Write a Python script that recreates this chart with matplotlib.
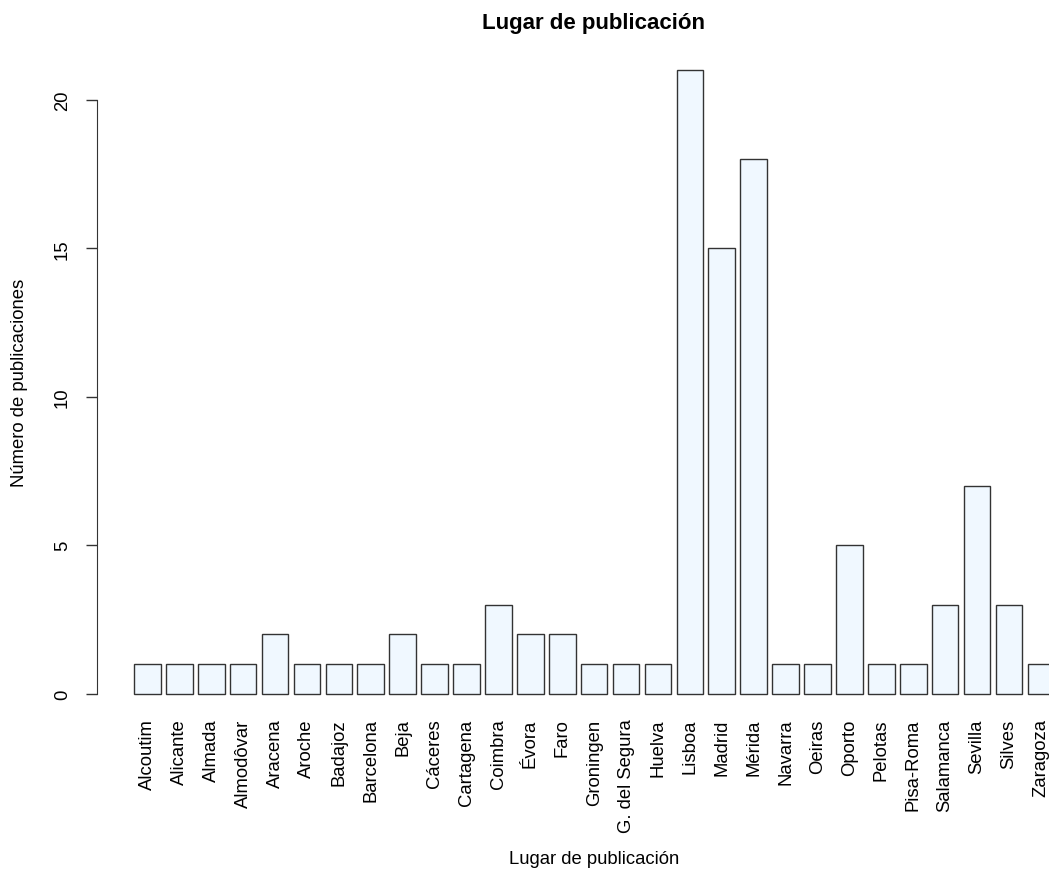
import matplotlib
matplotlib.use("Agg")
import matplotlib.pyplot as plt

plt.rcParams["font.family"] = ["Liberation Sans", "DejaVu Sans"]

lugares = ["Alcoutim", "Alicante", "Almada", "Almodôvar", "Aracena", "Aroche",
           "Badajoz", "Barcelona", "Beja", "Cáceres", "Cartagena", "Coimbra",
           "Évora", "Faro", "Groningen", "G. del Segura", "Huelva", "Lisboa",
           "Madrid", "Mérida", "Navarra", "Oeiras", "Oporto", "Pelotas",
           "Pisa-Roma", "Salamanca", "Sevilla", "Silves", "Zaragoza"]
publicaciones = [1, 1, 1, 1, 2, 1, 1, 1, 2, 1, 1, 3, 2, 2, 1, 1, 1, 21,
                 15, 18, 1, 1, 5, 1, 1, 3, 7, 3, 1]

W, H = 1049, 870
fig = plt.figure(figsize=(W / 100, H / 100), dpi=100)

# plot region in pixels (R-style, extends past right edge like the original)
left_px, right_px, top_px, bottom_px = 97.3, 1091, 46.5, 719.5
ax = fig.add_axes([left_px / W, 1 - bottom_px / H,
                   (right_px - left_px) / W, (bottom_px - top_px) / H])

# R barplot geometry: width 1, space 0.2
centers = [0.7 + 1.2 * i for i in range(len(lugares))]
ax.bar(centers, publicaciones, width=1.0, color="#F0F8FF",
       edgecolor="#333333", linewidth=1.0)

span = 1.2 * len(lugares) - 0.2 + 0.0
xmin, xmax = 0.2, 1.2 * len(lugares)
ext = (xmax - xmin) * 0.04
ax.set_xlim(xmin - ext, xmax + ext)
ymax = max(publicaciones)
ax.set_ylim(-ymax * 0.04, ymax * 1.04)

for s in ["top", "right", "bottom"]:
    ax.spines[s].set_visible(False)
ax.spines["left"].set_bounds(0, 20)
ax.spines["left"].set_color("#333333")

ax.set_yticks([0, 5, 10, 15, 20])
ax.tick_params(axis="y", length=8, width=1, color="#333333", pad=11,
               labelsize=13.3)
for lab in ax.get_yticklabels():
    lab.set_rotation(90)
    lab.set_va("center")

ax.set_xticks(centers)
ax.set_xticklabels(lugares, rotation=90, fontsize=13.3)
ax.tick_params(axis="x", length=0, pad=0)

fig.text(594 / W, 1 - 24 / H, "Lugar de publicación", ha="center", va="center",
         fontsize=16, fontweight="bold")
fig.text(594 / W, 1 - 860 / H, "Lugar de publicación", ha="center",
         va="center", fontsize=13.3)
fig.text(20 / W, 1 - 383 / H, "Número de publicaciones", ha="center",
         va="center", rotation=90, fontsize=13.3)

fig.savefig("out.png", dpi=100)
